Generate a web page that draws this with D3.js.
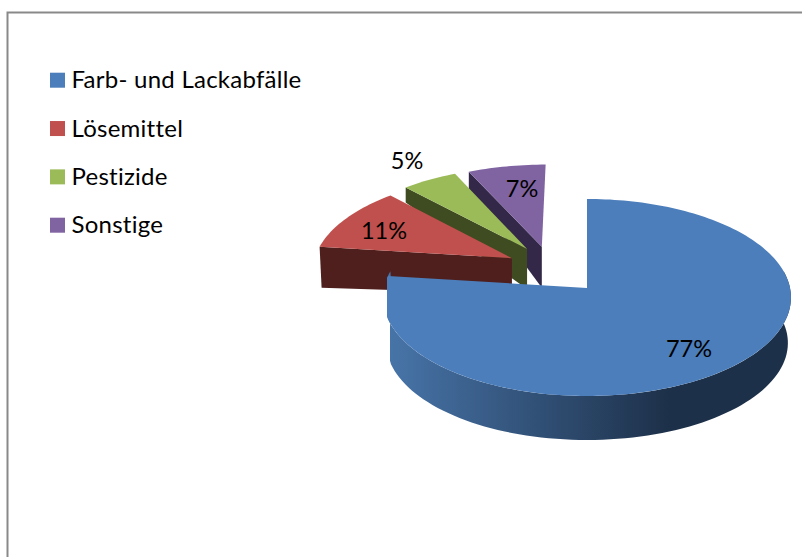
<!DOCTYPE html>
<html>
<head>
<meta charset="utf-8">
<style>
  html, body { margin: 0; padding: 0; background: #fff; }
  svg { display: block; }
  text { font-family: Lato, "Open Sans", sans-serif; fill: #000; font-variant-ligatures: none; }
</style>
<script src="https://cdn.jsdelivr.net/npm/d3@7"></script>
</head>
<body>
<svg id="chart" width="802" height="557"></svg>
<script>
// Waste shares by category
const categories = ["Farb- und Lackabfälle", "Lösemittel", "Pestizide", "Sonstige"];
const shares = [77, 11, 5, 7];
const shareLabels = ["77%", "11%", "5%", "7%"];

// Colours for the top faces and the side walls
const faceColors = ["#4c7ebb", "#c0504d", "#9bbb59", "#8064a2"];
const wallColors = ["#2a4365", "#4f1f1d", "#3f4c21", "#332848"];

// Displacement of each exploded slice on the disc, in radius units
const explodeX = [0, -0.381, -0.307, -0.232];
const explodeY = [0, 0.315, 0.415, 0.44];

// Label anchor points in page pixels
const labelX = [689, 384, 407, 522];
const labelY = [357, 239, 169, 197];

const svg = d3.select("#chart");

// Perspective view of the tilted disc
const cx = 587, cy = 288, rx = 203, ry = 97.6, k = 0.0964, leftLimit = 387;
const scaleAt = Y => 1 / (1 + k * Y);
const project = (X, Y) => [cx + rx * X * scaleAt(Y), cy - ry * Y * scaleAt(Y)];

// Wall height shrinks towards the back of the scene
const wallDepth = d3.scaleLinear()
  .domain([0.3, 0.44, 1.14, 1.35])
  .range([35, 41, 15, 17])
  .clamp(true);

const pie = d3.pie().sort(null).value(d => d);
const arcs = pie(shares);
const line = d3.line();

// Point on the rim (r = 1) or at the apex (r = 0) of slice i
function discPoint(i, angle, r) {
  return [explodeX[i] + r * Math.sin(angle), explodeY[i] + r * Math.cos(angle)];
}
function facePoints(i) {
  const a = arcs[i];
  const n = Math.max(8, Math.round((a.endAngle - a.startAngle) * 40));
  const rim = d3.range(n + 1).map(j => {
    const t = a.startAngle + (a.endAngle - a.startAngle) * j / n;
    const p = discPoint(i, t, 1);
    const q = project(p[0], p[1]);
    return i === 0 ? [Math.max(q[0], leftLimit), q[1]] : q;
  });
  const apex = discPoint(i, 0, 0);
  return [project(apex[0], apex[1]), ...rim];
}
// Flat cut wall running from the rim at the given angle to the apex
function cutWall(i, angle) {
  const rim = discPoint(i, angle, 1), apex = discPoint(i, 0, 0);
  const a = project(rim[0], rim[1]), b = project(apex[0], apex[1]);
  const lean = i === 1 ? 2 : 0;
  return [a, b, [b[0], b[1] + wallDepth(apex[1])], [a[0] + lean, a[1] + wallDepth(rim[1])]];
}

// Chart frame
svg.append("path")
  .attr("d", "M7.5,557V12.5H802")
  .attr("fill", "none")
  .attr("stroke", "#898989")
  .attr("stroke-width", 2);

// Legend
const legendY = d3.scalePoint().domain(categories).range([80.2, 225.2]);
const legend = svg.append("g").selectAll("g").data(categories).join("g")
  .attr("transform", d => `translate(50,${legendY(d)})`);
legend.append("rect")
  .attr("y", -7.5).attr("width", 15).attr("height", 15)
  .attr("fill", (d, i) => faceColors[i]);
legend.append("text")
  .attr("x", 21.5).attr("y", 8)
  .attr("font-size", 24)
  .attr("letter-spacing", 0.25)
  .text(d => d);

// Gradient along the curved wall of the large slice
const defs = svg.append("defs");
const grad = defs.append("linearGradient")
  .attr("id", "rimShade")
  .attr("gradientUnits", "userSpaceOnUse")
  .attr("x1", 390).attr("x2", 670).attr("y1", 0).attr("y2", 0);
grad.append("stop").attr("offset", 0).attr("stop-color", "#4774a8");
grad.append("stop").attr("offset", 1).attr("stop-color", "#1d3049");

// Exploded slices, back to front: walls first, then their faces
[3, 2, 1].forEach(i => {
  const wallAngle = arcs[i].startAngle;
  svg.append("path")
    .attr("d", line(cutWall(i, wallAngle)) + "Z")
    .attr("fill", wallColors[i]);
  svg.append("path")
    .attr("d", line(facePoints(i)) + "Z")
    .attr("fill", faceColors[i]);
});

// Curved outer wall of the large slice, bottom rim pulled in for perspective
const rimAngles = d3.range(80, 281, 2).map(d => d * Math.PI / 180);
const upper = rimAngles.map(t => {
  const q = project(Math.sin(t), Math.cos(t));
  return [Math.max(q[0], leftLimit), q[1]];
});
const lower = rimAngles.map(t => {
  const p = project(Math.sin(t), Math.cos(t));
  const x = cx + (p[0] - cx) * 0.985;
  return [Math.max(x, leftLimit + 3), cy + (p[1] - cy) * 0.985 + 45.6];
}).reverse();
svg.append("path")
  .attr("d", line([...upper, ...lower]) + "Z")
  .attr("fill", "url(#rimShade)");
svg.append("path")
  .attr("d", line(facePoints(0)) + "Z")
  .attr("fill", faceColors[0]);

// Percentage labels
svg.append("g").selectAll("text").data(shareLabels).join("text")
  .attr("x", (d, i) => labelX[i])
  .attr("y", (d, i) => labelY[i])
  .attr("text-anchor", "middle")
  .attr("font-size", 23.5)
  .text(d => d);
</script>
</body>
</html>
